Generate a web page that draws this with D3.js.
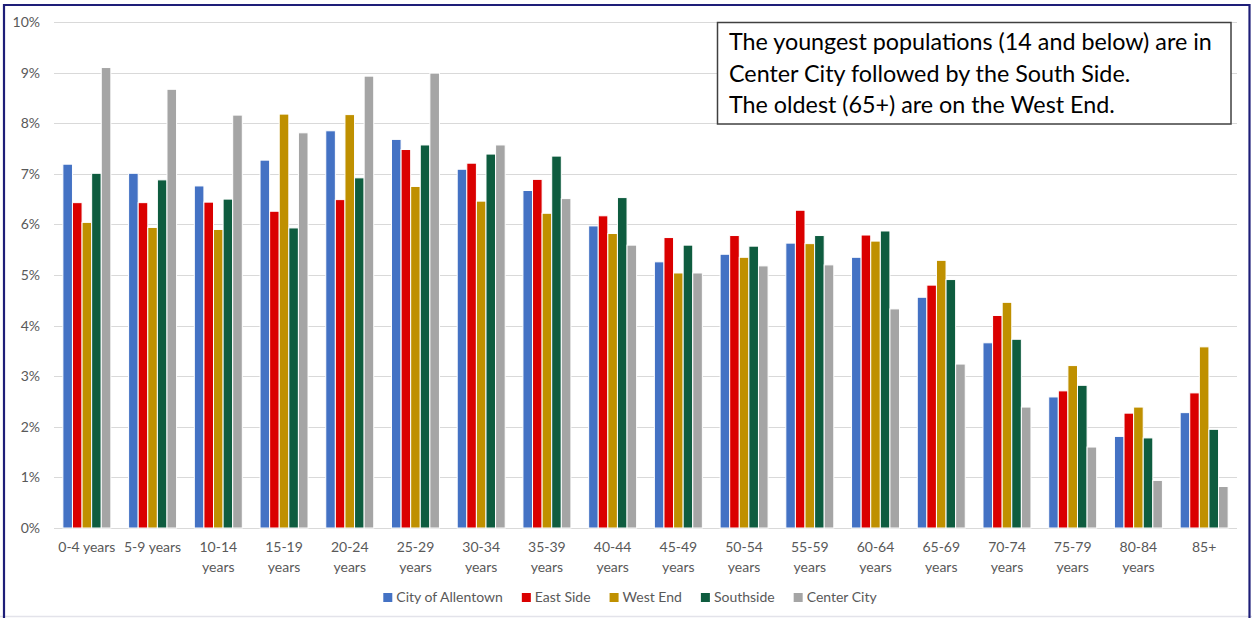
<!DOCTYPE html>
<html><head><meta charset="utf-8">
<script src="https://cdn.jsdelivr.net/npm/d3@7"></script>
<style>
html,body{margin:0;padding:0;background:#fff;}
svg{display:block;font-family:Lato,"Open Sans",sans-serif;}
</style>
</head><body>
<svg id="chart" width="1252" height="618"></svg>
<script>
// ---------- data ----------
const categories = ["0-4 years","5-9 years","10-14 years","15-19 years","20-24 years","25-29 years","30-34 years","35-39 years","40-44 years","45-49 years","50-54 years","55-59 years","60-64 years","65-69 years","70-74 years","75-79 years","80-84 years","85+"];
const seriesNames = ["City of Allentown","East Side","West End","Southside","Center City"];
const cityOfAllentown = [7.19,7.01,6.76,7.27,7.85,7.68,7.09,6.67,5.97,5.26,5.41,5.63,5.35,4.56,3.66,2.59,1.81,2.28];
const eastSide        = [6.43,6.43,6.44,6.26,6.49,7.48,7.21,6.89,6.17,5.74,5.78,6.28,5.79,4.80,4.20,2.71,2.27,2.67];
const westEnd         = [6.04,5.94,5.90,8.18,8.17,6.75,6.46,6.22,5.82,5.04,5.35,5.62,5.67,5.29,4.46,3.21,2.39,3.58];
const southside       = [7.01,6.88,6.50,5.93,6.92,7.57,7.39,7.35,6.53,5.59,5.57,5.78,5.87,4.91,3.73,2.82,1.78,1.95];
const centerCity      = [9.10,8.67,8.16,7.81,8.93,8.99,7.57,6.51,5.59,5.04,5.18,5.20,4.33,3.24,2.39,1.60,0.94,0.82];
const yTicks = [0,1,2,3,4,5,6,7,8,9,10];
const annotationLines = [
  "The youngest populations (14 and below) are in",
  "Center City followed by the South Side.",
  "The oldest (65+) are on the West End."
];

// ---------- setup ----------
const seriesValues = [cityOfAllentown, eastSide, westEnd, southside, centerCity];
const palette = ["#4472C4","#DA0000","#BF9000","#0E5C3F","#A5A5A5"];
const svg = d3.select("#chart");
const W = 1252, H = 618;
const plot = {left:54, right:1237, top:22, bottom:528};
const textColor = "#595959";
const fs = "14px";

// frame
svg.append("rect").attr("x",0).attr("y",0).attr("width",W).attr("height",H).attr("fill","#fff");
svg.append("line").attr("x1",0).attr("x2",W).attr("y1",616.5).attr("y2",616.5).attr("stroke","#E3E3EA").attr("stroke-width",1.5);
svg.append("path")
  .attr("d",`M4,${H} L4,5 L1249.5,5 L1249.5,${H}`)
  .attr("fill","none").attr("stroke","#1E1E78").attr("stroke-width",2.2);

const x0 = d3.scaleBand().domain(categories).range([plot.left, plot.right]).paddingInner(0.27).paddingOuter(0.135);
const x1 = d3.scaleBand().domain(seriesNames).range([0, x0.bandwidth()]).padding(0);
const y = d3.scaleLinear().domain([0,10]).range([plot.bottom, plot.top]);
const color = d3.scaleOrdinal().domain(seriesNames).range(palette);

// gridlines
svg.append("g").selectAll("line").data(yTicks).join("line")
  .attr("x1",plot.left).attr("x2",plot.right)
  .attr("y1",d=>Math.round(y(d))+0.5).attr("y2",d=>Math.round(y(d))+0.5)
  .attr("stroke","#D9D9D9").attr("stroke-width",1);

// y axis
const yAxis = d3.axisLeft(y).tickValues(yTicks).tickFormat(d=>d+"%").tickSize(0).tickPadding(0);
const gy = svg.append("g").attr("transform",`translate(40,0)`).call(yAxis);
gy.select(".domain").remove();
gy.selectAll("text").attr("fill",textColor).attr("font-size",fs).attr("font-family","Lato,sans-serif");

// bars
const rows = categories.map((c,i)=>({cat:c, vals:seriesNames.map((s,j)=>({s, v:seriesValues[j][i]}))}));
svg.append("g").selectAll("g").data(rows).join("g")
  .attr("transform",d=>`translate(${x0(d.cat)},0)`)
  .selectAll("rect").data(d=>d.vals).join("rect")
  .attr("x",d=>x1(d.s)).attr("width",x1.bandwidth())
  .attr("y",d=>y(d.v)).attr("height",d=>y(0)-y(d.v))
  .attr("fill",d=>color(d.s)).attr("stroke","#fff").attr("stroke-width",1);

// x axis labels (wrapped)
const xg = svg.append("g");
categories.forEach(c=>{
  const cxp = x0(c)+x0.bandwidth()/2;
  const t = xg.append("text").attr("x",cxp).attr("y",552)
    .attr("text-anchor","middle").attr("fill",textColor).attr("font-size",fs).text(c);
  if (t.node().getComputedTextLength() > x0.step()-4 && c.indexOf(" ")>0) {
    const k = c.lastIndexOf(" ");
    t.text(null);
    t.append("tspan").attr("x",cxp).attr("y",552).text(c.slice(0,k));
    t.append("tspan").attr("x",cxp).attr("y",572).text(c.slice(k+1));
  }
});

// legend
const lg = svg.append("g");
const items = seriesNames.map(s=>{
  const g = lg.append("g");
  g.append("rect").attr("width",9).attr("height",9).attr("y",-9).attr("fill",color(s));
  const t = g.append("text").attr("x",13).attr("y",0).attr("fill",textColor).attr("font-size",fs).text(s);
  return {g, w:13+t.node().getComputedTextLength()};
});
const gap = 19;
const total = d3.sum(items,d=>d.w)+gap*(items.length-1);
let cx = 630 - total/2;
items.forEach(it=>{ it.g.attr("transform",`translate(${cx},602)`); cx += it.w+gap; });

// annotation box
const ab = svg.append("g");
ab.append("rect").attr("x",717.5).attr("y",22.5).attr("width",513.5).attr("height",101.5)
  .attr("fill","#fff").attr("stroke","#404040").attr("stroke-width",1.5);
ab.selectAll("text").data(annotationLines).join("text")
  .attr("x",729).attr("y",(d,i)=>50+i*31.5)
  .attr("fill","#000").attr("font-size","23.3px").text(d=>d);
</script>
</body></html>
